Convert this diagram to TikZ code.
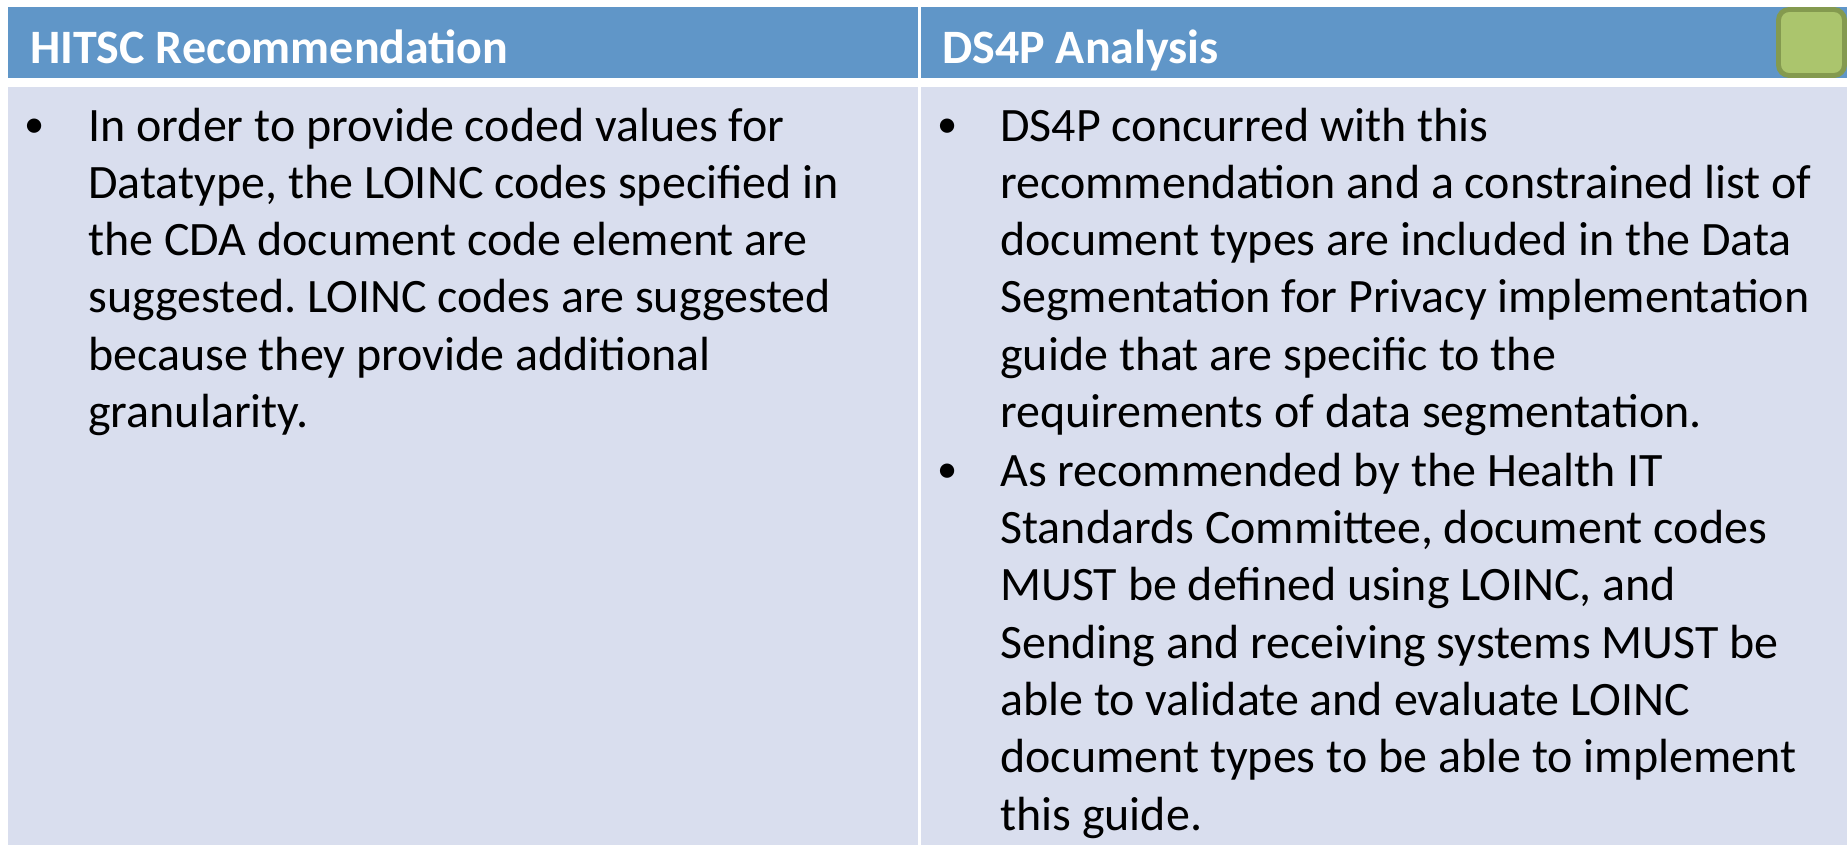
\documentclass[tikz,border=0pt]{standalone}
\usepackage{fontspec}
\setmainfont{Carlito}
\usetikzlibrary{positioning}
\frenchspacing
\definecolor{hdrblue}{HTML}{6096C8}
\definecolor{cellblue}{HTML}{D9DEEE}
\definecolor{boxgreen}{HTML}{ABC56D}
\definecolor{boxedge}{HTML}{849A4F}
\tikzset{
  hdrtext/.style={anchor=base west, inner sep=0pt, text=white, font=\fontsize{27.3}{32.6}\selectfont\bfseries},
  bodytext/.style={anchor=base west, inner sep=0pt, align=left, font=\fontsize{27.3}{32.6}\selectfont},
  bulletmark/.style={anchor=base, inner sep=0pt, font=\fontsize{23}{32.6}\selectfont}
}
\begin{document}
\begin{tikzpicture}[x=0.02cm, y=-0.02cm]
\useasboundingbox (0,0) rectangle (1847,845);
\fill[white] (0,0) rectangle (1847,845);
% header row
\fill[hdrblue] (8,7) rectangle (918,78);
\fill[hdrblue] (921,7) rectangle (1847,78);
% body row
\fill[cellblue] (8,87) rectangle (918,845);
\fill[cellblue] (921,87) rectangle (1847,845);
% green marker
\draw[boxedge, line width=2.8pt, fill=boxgreen, rounded corners=6pt] (1778.5,9.5) rectangle (1844.5,75.5);
% headers
\node[hdrtext] (hitsc) at (30,63) {HITSC Recommendation};
\node[hdrtext] (ds4p) at (942,63) {DS4P Analysis};
% left column (base = last line)
\node[bulletmark] (lb1) at (35,137) {•};
\node[bodytext] (rec) at (88,427.5) {In order to provide coded values for\\
Datatype, the LOINC codes specified in\\
the CDA document code element are\\
suggested. LOINC codes are suggested\\
because they provide additional\\
granularity.};
% right column
\node[bulletmark] (rb1) at (948,137) {•};
\node[bodytext] (ana1) at (1000,427.5) {DS4P concurred with this\\
recommendation and a constrained list of\\
document types are included in the Data\\
Segmentation for Privacy implementation\\
guide that are specific to the\\
requirements of data segmentation.};
\node[bulletmark] (rb2) at (948,482) {•};
\node[bodytext] (ana2) at (1000,830) {As recommended by the Health IT\\
Standards Committee, document codes\\
MUST be defined using LOINC, and\\
Sending and receiving systems MUST be\\
able to validate and evaluate LOINC\\
document types to be able to implement\\
this guide.};
\end{tikzpicture}
\end{document}
